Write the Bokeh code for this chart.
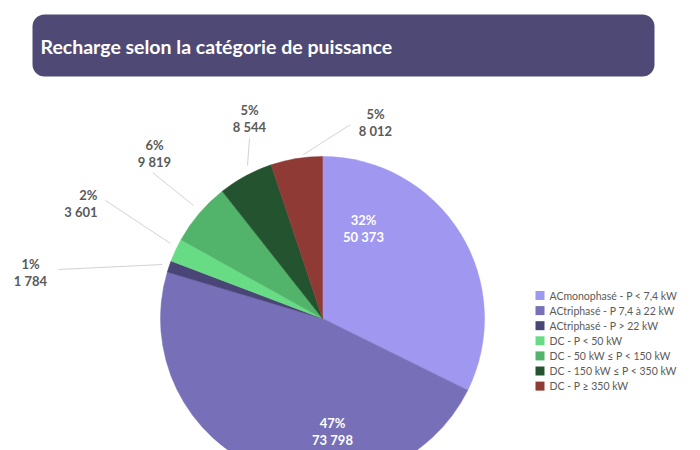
import math
from bokeh.plotting import figure
from bokeh.models import Range1d, ColumnDataSource
from bokeh.core.properties import value
from bokeh.embed import file_html
from bokeh.resources import INLINE

# ---- data ----
categories = [
    "ACmonophasé - P < 7,4 kW",
    "ACtriphasé - P 7,4 à 22 kW",
    "ACtriphasé - P > 22 kW",
    "DC - P < 50 kW",
    "DC - 50 kW ≤ P < 150 kW",
    "DC - 150 kW  ≤ P < 350 kW",
    "DC - P ≥ 350 kW",
]
counts = [50373, 73798, 1784, 3601, 9819, 8544, 8012]
colors = ["#9f97f0", "#7770b8", "#4a4577", "#68dc85", "#52b36a", "#24542f", "#8f3a35"]
title = "Recharge selon la catégorie de puissance"

# ---- layout (window pixel coords) ----
W, H = 690, 450
WIN_H = 450
def Y(y):
    return WIN_H - y

cx, cy, R = 322, 318, 162
# label anchor (x, y centre of two-line block, align) in window px
label_pos = [(363, 228, "center"), (332, 431, "center"), (30, 272, "center"),
             (97, 203, "right"), (154, 153, "center"), (249, 118, "center"), (375, 122, "center")]
inside = [True, True, False, False, False, False, False]
leader = [None, None, ((58, 269), (162, 264)), ((105, 200), (170, 243)),
          ((152, 172), (193, 205)), ((249, 138), (247, 165)), ((350, 124), (303, 154))]

total = sum(counts)
pct = [f"{round(100 * c / total)}%" for c in counts]
cnt = [f"{c:,}".replace(",", " ") for c in counts]

starts, ends = [], []
acc = 0
for c in counts:
    starts.append(math.pi / 2 - 2 * math.pi * acc / total)
    acc += c
    ends.append(math.pi / 2 - 2 * math.pi * acc / total)

p = figure(width=W, height=H, output_backend="svg", toolbar_location=None,
           x_range=Range1d(0, W), y_range=Range1d(WIN_H - H, WIN_H),
           min_border=0, outline_line_color=None, background_fill_color="white")
p.axis.visible = False
p.grid.visible = False

# title banner
p.quad(left=[32], right=[654], top=[Y(14)], bottom=[Y(76)],
       fill_color="#4e4a75", line_color=None, border_radius=12)
p.text(x=[40], y=[Y(46)], text=[title], text_font=value("Lato"), text_font_style="bold",
       text_font_size="19.5px", text_color="white", text_baseline="middle", text_align="left")

# pie
src = ColumnDataSource(dict(x=[cx] * len(counts), y=[Y(cy)] * len(counts),
                            s=starts, e=ends, c=colors))
p.wedge(x="x", y="y", radius=R, start_angle="s", end_angle="e", direction="clock",
        fill_color="c", line_color="c", line_width=0.5, source=src)

# leader lines
for ld in leader:
    if ld is None:
        continue
    (x0, y0), (x1, y1) = ld
    p.line([x0, x1], [Y(y0), Y(y1)], line_color="#d3d3d3", line_width=1)

# data labels
for i in range(len(counts)):
    lx, ly, al = label_pos[i]
    col = "white" if inside[i] else "#5a5a5a"
    p.text(x=[lx, lx], y=[Y(ly - 8.5), Y(ly + 8.5)], text=[pct[i], cnt[i]],
           text_font=value("Lato"), text_font_style="bold", text_font_size="13px",
           text_color=col, text_align=al, text_baseline="middle")

# legend
lg_x, lg_y0, lg_dy = 535, 295, 15.1
for i, cat in enumerate(categories):
    yy = lg_y0 + i * lg_dy
    p.quad(left=[lg_x], right=[lg_x + 9], top=[Y(yy - 4.5)], bottom=[Y(yy + 4.5)],
           fill_color=colors[i], line_color=None)
    p.text(x=[lg_x + 14], y=[Y(yy)], text=[cat], text_font=value("Lato"),
           text_font_size="10.5px", text_color="#5a5a5a", text_baseline="middle",
           text_align="left")

open("out.html", "w").write(file_html(p, INLINE))
